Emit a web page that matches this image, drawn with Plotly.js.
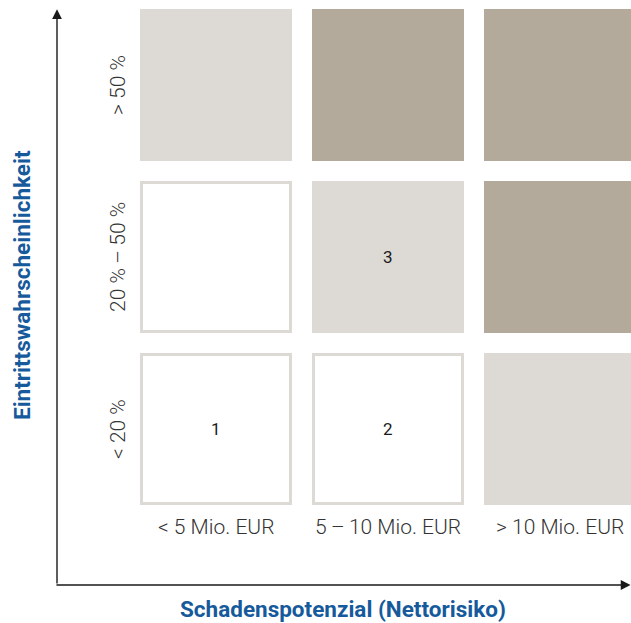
<!DOCTYPE html>
<html>
<head>
<meta charset="utf-8">
<script src="https://cdn.plot.ly/plotly-3.0.1.min.js"></script>
<style>html,body{margin:0;padding:0;background:#fff;}#chart{width:631px;height:623px;}</style>
</head>
<body>
<div id="chart"></div>
<script>
// Data
const xCategories = ["< 5 Mio. EUR", "5\u2009\u2013\u200910 Mio. EUR", "> 10 Mio. EUR"];
const yCategories = ["< 20 %", "20 %\u2009\u2013\u200950 %", "> 50 %"];
// risk level per row (bottom to top), per column: 0 = low, 1 = medium, 2 = high
const riskRow0 = [0, 0, 1];
const riskRow1 = [0, 1, 2];
const riskRow2 = [1, 2, 2];
const cellCountRow0 = ["1", "2", ""];
const cellCountRow1 = ["", "3", ""];
const cellCountRow2 = ["", "", ""];
const xTitle = "Schadenspotenzial (Nettorisiko)";
const yTitle = "Eintrittswahrscheinlichkeit";

const riskGrid = [riskRow0, riskRow1, riskRow2];
const countGrid = [cellCountRow0, cellCountRow1, cellCountRow2];

const fills = ["#ffffff", "#dddad5", "#b3aa9b"];
const borderColor = "#dddad5";
const half = 76 / 172;
const inset = 1.5 / 172;

const shapes = [];
const annotations = [];

riskGrid.forEach((row, j) => {
  row.forEach((lvl, i) => {
    if (lvl === 0) {
      shapes.push({type: "rect", xref: "x", yref: "y",
        x0: i - half + inset, x1: i + half - inset, y0: j - half + inset, y1: j + half - inset,
        fillcolor: "#ffffff", line: {color: borderColor, width: 3}, layer: "below"});
    } else {
      shapes.push({type: "rect", xref: "x", yref: "y",
        x0: i - half, x1: i + half, y0: j - half, y1: j + half,
        fillcolor: fills[lvl], line: {width: 0}, layer: "below"});
    }
    const t = countGrid[j][i];
    if (t) {
      annotations.push({x: i, y: j, xref: "x", yref: "y", text: t, showarrow: false,
        font: {family: "Roboto", size: 17, color: "#1a1a1a"}});
    }
  });
});

const labelFont = {family: "Roboto", size: 21, color: "#333333", weight: 300};
xCategories.forEach((c, i) => {
  annotations.push({x: i, y: -0.57, xref: "x", yref: "y", text: c, showarrow: false, font: labelFont});
});
yCategories.forEach((c, j) => {
  annotations.push({x: -0.57, y: j, xref: "x", yref: "y", text: c, showarrow: false, textangle: -90, font: labelFont});
});

// axis arrows
const axX = (57 - 216) / 172;   // vertical axis position
const axY = (429 - 585) / 172;  // horizontal axis position
annotations.push({x: axX, y: 2.44, ax: axX, ay: axY, xref: "x", yref: "y", axref: "x", ayref: "y",
  text: "", showarrow: true, arrowhead: 2, arrowsize: 1.4, arrowwidth: 1.4, arrowcolor: "#1a1a1a"});
annotations.push({x: 2.41, y: axY, ax: axX - 0.012, ay: axY, xref: "x", yref: "y", axref: "x", ayref: "y",
  text: "", showarrow: true, arrowhead: 2, arrowsize: 1.4, arrowwidth: 1.4, arrowcolor: "#1a1a1a"});

const titleFont = {family: "Roboto", size: 22.5, color: "#165a9c", weight: 700};
annotations.push({x: 0.738, y: -1.047, xref: "x", yref: "y", text: "<b>" + xTitle + "</b>", showarrow: false, font: titleFont});
annotations.push({x: -1.128, y: 0.837, xref: "x", yref: "y", text: "<b>" + yTitle + "</b>", showarrow: false, textangle: -90, font: titleFont});

const layout = {
  width: 631, height: 623,
  margin: {l: 0, r: 0, t: 0, b: 0, pad: 0},
  paper_bgcolor: "#ffffff", plot_bgcolor: "#ffffff",
  xaxis: {range: [-216 / 172, 415 / 172], visible: false, fixedrange: true},
  yaxis: {range: [(429 - 623) / 172, 429 / 172], visible: false, fixedrange: true},
  shapes: shapes,
  annotations: annotations,
  showlegend: false
};

const trace = {type: "scatter", x: [0, 1, 2], y: [0, 1, 2], mode: "markers", marker: {opacity: 0}, hoverinfo: "skip"};
Plotly.newPlot("chart", [trace], layout, {displayModeBar: false, staticPlot: true});
</script>
</body>
</html>
